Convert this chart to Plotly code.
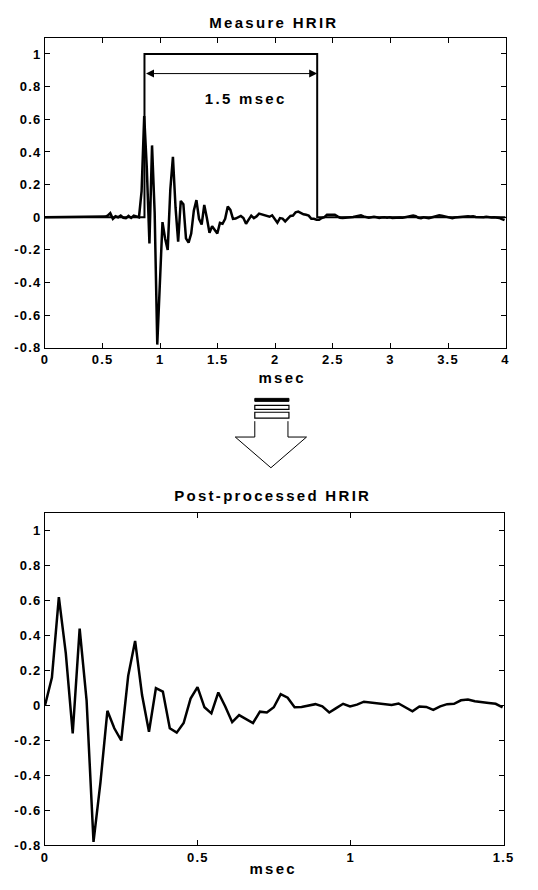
import numpy as np
import plotly.graph_objects as go

FS_KHZ = 44.1  # samples per msec

# Post-processed HRIR (1.5 msec window)
hrir = [0.00, 0.16, 0.62, 0.30, -0.16, 0.44, 0.03, -0.78, -0.44, -0.03,
        -0.13, -0.20, 0.17, 0.37, 0.06, -0.15, 0.10, 0.08, -0.13, -0.155,
        -0.10, 0.04, 0.105, -0.01, -0.045, 0.075, -0.005, -0.095, -0.055, -0.08,
        -0.10, -0.035, -0.04, -0.01, 0.065, 0.045, -0.01, -0.008, 0.0, 0.008,
        -0.005, -0.04, -0.015, 0.01, -0.005, 0.005, 0.022, 0.018, 0.015, 0.01,
        0.003, 0.012, -0.01, -0.033, -0.005, -0.008, -0.025, -0.005, 0.008, 0.01,
        0.03, 0.035, 0.025, 0.018, 0.015, 0.01, -0.01]

# Measured HRIR: samples before and after the response
pre = [0, 0, 0, 0, 0, 0, 0, 0, 0, 0, 0, 0, 0.003, 0, 0, 0, 0, 0, 0, 0,
       0, 0, 0, 0.004, 0.01, 0.025, -0.01, 0.006, 0.0, 0.01, -0.003, -0.006,
       0.008, -0.004, 0.01, 0.004]
post = [-0.01, -0.015, -0.015, -0.005, 0.0, 0.015, 0.015, 0.015, 0.015, 0.005,
        -0.003, -0.005, -0.002, 0.0, 0.0, 0.002, 0.005, 0.008, 0.012, 0.005,
        0.0, -0.003, 0.0, 0.003, 0.0, -0.004, -0.002, 0.0, -0.003, 0.0,
        -0.004, -0.002, 0.0, -0.002, -0.003, 0.0, 0.004, 0.01, 0.01, 0.006,
        -0.004, -0.006, 0.0, -0.003, -0.006, -0.002, 0.004, 0.01, 0.012, 0.01,
        0.006, 0.002, -0.005, -0.006, -0.002, 0.0, -0.002, 0.0, 0.004, 0.006,
        0.004, 0.006, 0.002, 0.0, -0.002, 0.0, 0.003, 0.0, -0.002, 0.0,
        0.0, -0.004, -0.012, -0.018]

# Rectangular 1.5 msec window
window_x = [0.0, 0.864, 0.864, 2.364, 2.364, 4.0]
window_y = [0, 0, 1, 1, 0, 0]

top_xticks = [0, 0.5, 1, 1.5, 2, 2.5, 3, 3.5, 4]
top_xtext = ["0", "0.5", "1", "1.5", "2", "2.5", "3", "3.5", "4"]
bot_xticks = [0, 0.5, 1, 1.5]
bot_xtext = ["0", "0.5", "1", "1.5"]
yticks = [-0.8, -0.6, -0.4, -0.2, 0, 0.2, 0.4, 0.6, 0.8, 1]
ytext = ["-0.8", "-0.6", "-0.4", "-0.2", "0", "0.2", "0.4", "0.6", "0.8", "1"]

measured = pre + hrir + post
t_meas = np.arange(len(measured)) / FS_KHZ
t_hrir = np.arange(len(hrir)) / FS_KHZ

W, H = 538, 890
FONT = "Liberation Sans"


def px(x):
    return x / W


def py(y):
    return 1 - y / H


fig = go.Figure()
fig.add_trace(go.Scatter(x=window_x, y=window_y, mode="lines",
                         line=dict(color="black", width=2), xaxis="x", yaxis="y",
                         showlegend=False))
fig.add_trace(go.Scatter(x=t_meas, y=measured, mode="lines",
                         line=dict(color="black", width=2.5), xaxis="x", yaxis="y",
                         showlegend=False))
fig.add_trace(go.Scatter(x=t_hrir, y=hrir, mode="lines",
                         line=dict(color="black", width=2.5), xaxis="x2", yaxis="y2",
                         showlegend=False))

tickfont = dict(family=FONT, size=13, color="black", weight="bold")
axis_common = dict(showline=True, linecolor="black", linewidth=1, mirror="allticks",
                   ticks="inside", ticklen=5, tickcolor="black", tickwidth=1,
                   showgrid=False, zeroline=False, tickfont=tickfont, tickmode="array")

fig.update_layout(
    width=W, height=H, margin=dict(l=0, r=0, t=0, b=0),
    plot_bgcolor="white", paper_bgcolor="white",
    xaxis=dict(domain=[px(42), px(514)], range=[0, 4], anchor="y",
               tickvals=top_xticks, ticktext=top_xtext, **axis_common),
    yaxis=dict(domain=[py(351), py(38)], range=[-0.8, 1.1], anchor="x",
               tickvals=yticks, ticktext=ytext, **axis_common),
    xaxis2=dict(domain=[px(42), px(512)], range=[0, 1.5], anchor="y2",
                tickvals=bot_xticks, ticktext=bot_xtext, **axis_common),
    yaxis2=dict(domain=[py(853), py(518)], range=[-0.8, 1.1], anchor="x2",
                tickvals=yticks, ticktext=ytext, **axis_common),
)

title_font = dict(family=FONT, size=15, color="black", weight="bold")


def label(text, x, y):
    return dict(text=text, x=px(x), y=py(y), xref="paper", yref="paper",
                xanchor="center", yanchor="middle", showarrow=False, font=title_font)


annots = [
    label("Measure HRIR", 277, 23),
    label("Post-processed HRIR", 276, 500),
    label("msec", 285, 381),
    label("msec", 276, 876),
    dict(text="1.5 msec", x=1.74, y=0.73, xref="x", yref="y",
         xanchor="center", yanchor="middle", showarrow=False, font=title_font),
    dict(text="", x=window_x[3], y=0.88, ax=window_x[1], ay=0.88,
         xref="x", yref="y", axref="x", ayref="y", showarrow=True,
         arrowhead=2, startarrowhead=2, arrowside="end+start",
         arrowwidth=1, arrowsize=1.6, startarrowsize=1.6, arrowcolor="black",
         standoff=0, startstandoff=0),
]
fig.update_layout(annotations=annots)

# Decorative down arrow between panels
shapes = [
    dict(type="rect", xref="paper", yref="paper", x0=px(257), x1=px(292),
         y0=py(405), y1=py(402), fillcolor="black", line=dict(color="black", width=1)),
    dict(type="rect", xref="paper", yref="paper", x0=px(257), x1=px(292),
         y0=py(413), y1=py(409), fillcolor="white", line=dict(color="black", width=1.2)),
    dict(type="rect", xref="paper", yref="paper", x0=px(257), x1=px(292),
         y0=py(422), y1=py(416), fillcolor="white", line=dict(color="black", width=1.2)),
    dict(type="path", xref="paper", yref="paper",
         path=(f"M {px(257)},{py(425)} L {px(257)},{py(441)} L {px(237)},{py(441)} "
               f"L {px(273.5)},{py(472)} L {px(310)},{py(441)} L {px(291)},{py(441)} "
               f"L {px(291)},{py(425)}"),
         fillcolor="white", line=dict(color="black", width=1)),
]
fig.update_layout(shapes=shapes)

# Wide letter spacing like the original figure's lettering
post_js = """
var st = document.createElement('style');
st.textContent = '.js-plotly-plot .xtick text, .js-plotly-plot .ytick text, ' +
  '.js-plotly-plot .x2tick text, .js-plotly-plot .y2tick text {letter-spacing:1.2px !important;} ' +
  '.js-plotly-plot .annotation-text {letter-spacing:2.3px !important;}';
document.head.appendChild(st);
"""

fig.write_html("out.html", post_script=post_js)
